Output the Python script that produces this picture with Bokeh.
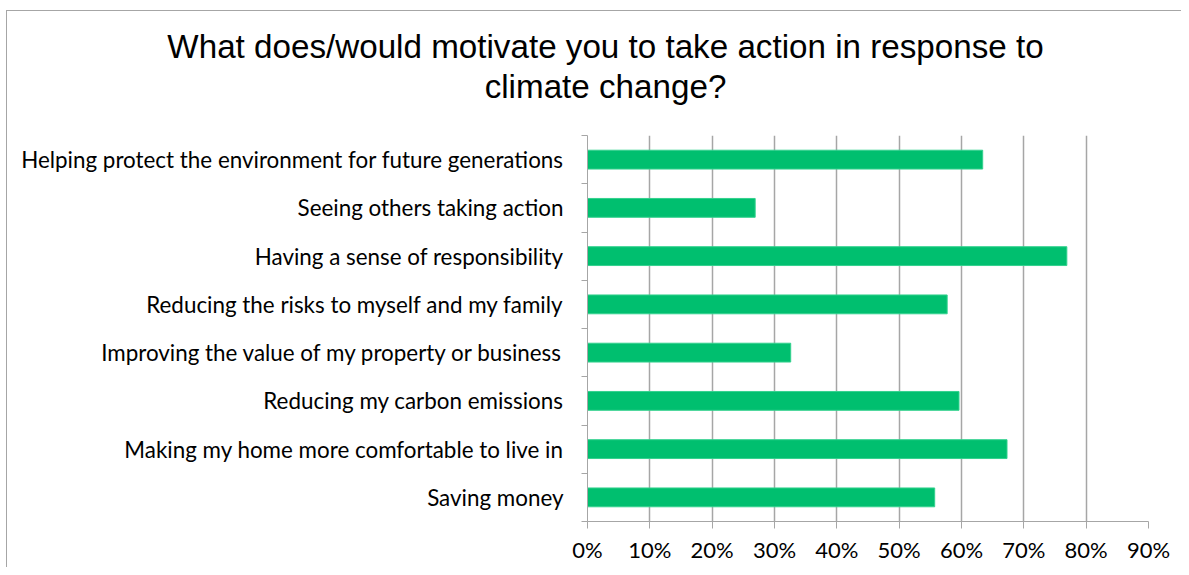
import numpy as np
from bokeh.plotting import figure
from bokeh.models import FixedTicker, NumeralTickFormatter, Range1d, ColumnDataSource, Div
from bokeh.layouts import column
from bokeh.embed import file_html
from bokeh.resources import INLINE

title_lines = ["What does/would motivate you to take action in response to", "climate change?"]
# bottom to top
categories = [
    "Saving money",
    "Making my home more comfortable to live in",
    "Reducing my carbon emissions",
    "Improving the value of my property or business",
    "Reducing the risks to myself and my family",
    "Having a sense of responsibility",
    "Seeing others taking action",
    "Helping protect the environment for future generations",
]
values = [0.557, 0.673, 0.596, 0.326, 0.577, 0.769, 0.269, 0.634]
x_ticks = [0.0, 0.1, 0.2, 0.3, 0.4, 0.5, 0.6, 0.7, 0.8, 0.9]

n = len(categories)
ypos = [i + 0.5 for i in range(n)]
src = ColumnDataSource(dict(y=ypos, v=values, cat=categories))

LBL_FONT = "Lato"
GRID = "#A6A6A6"
W, H = 1181, 567
TITLE_H = 110

title_html = (
    '<div style="box-sizing:border-box;width:1151px;height:110px;margin:0 0 0 30px;padding-top:27px;'
    'text-align:center;overflow:hidden;'
    'font-family:\'Liberation Sans\',Arial,sans-serif;font-size:33.2px;line-height:40px;color:#000;">'
    + "<br>".join(title_lines) + "</div>"
)
div = Div(text=title_html, width=W, height=TITLE_H, styles={"overflow": "hidden", "margin": "0", "padding": "0"})

p = figure(width=W, height=H - TITLE_H, output_backend="svg", toolbar_location=None,
           x_range=Range1d(0, 0.9), y_range=Range1d(0, n),
           min_border_left=587, min_border_right=33, min_border_top=25, min_border_bottom=46)
p.outline_line_color = None
p.border_fill_color = None
p.background_fill_color = "#FFFFFF"

p.hbar(y="y", right="v", left=0, height=0.39, source=src, fill_color="#00BF6F", line_color="#33D18E", line_width=1)

# x axis
p.xaxis.ticker = FixedTicker(ticks=x_ticks)
p.xaxis.formatter = NumeralTickFormatter(format="0%")
p.xaxis.axis_line_color = GRID
p.xaxis.major_tick_line_color = GRID
p.xaxis.major_tick_out = 7
p.xaxis.major_tick_in = 0
p.xaxis.minor_tick_line_color = None
p.xaxis.major_label_text_font = LBL_FONT
p.xaxis.major_label_text_font_size = "22px"
p.xaxis.major_label_text_color = "#000000"
p.xaxis.major_label_standoff = 7

# y axis: labels at category centres, ticks at boundaries
p.yaxis.ticker = FixedTicker(ticks=ypos, minor_ticks=list(range(n + 1)))
p.yaxis.major_label_overrides = {y: c for y, c in zip(ypos, categories)}
p.yaxis.axis_line_color = GRID
p.yaxis.major_tick_line_color = None
p.yaxis.minor_tick_line_color = GRID
p.yaxis.minor_tick_out = 6
p.yaxis.minor_tick_in = 0
p.yaxis.major_label_text_font = LBL_FONT
p.yaxis.major_label_text_font_size = "22.4px"
p.yaxis.major_label_text_color = "#000000"
p.yaxis.major_label_standoff = 18

p.xgrid.ticker = FixedTicker(ticks=x_ticks)
p.xgrid.grid_line_color = GRID
p.xgrid.grid_line_width = 1.5
p.ygrid.grid_line_color = None

layout = column(div, p, spacing=0)
layout.styles = {
    "background": "linear-gradient(#A6A6A6,#A6A6A6) 6px 10px / 1px 100% no-repeat, "
                  "linear-gradient(#A6A6A6,#A6A6A6) 6px 10px / 100% 1px no-repeat, #FFFFFF"
}

open("out.html", "w").write(file_html(layout, INLINE))
